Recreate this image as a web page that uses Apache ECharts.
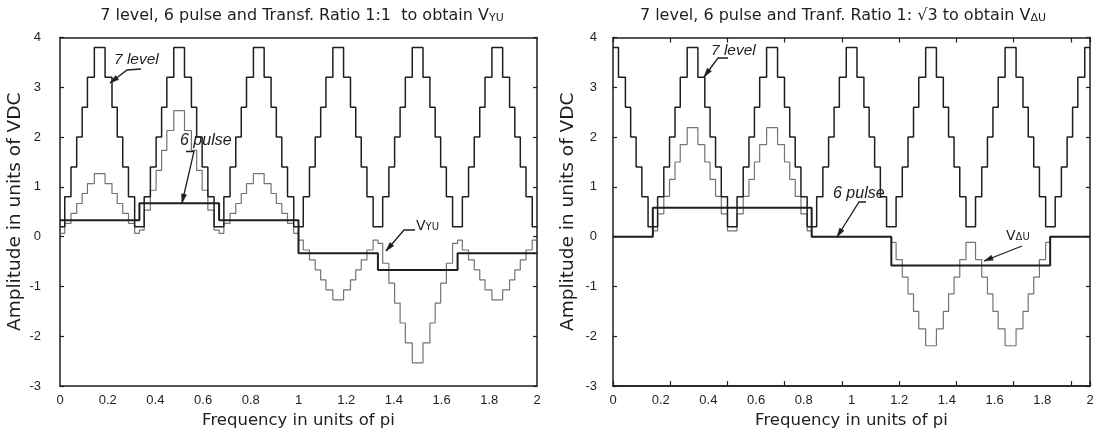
<!DOCTYPE html>
<html><head><meta charset="utf-8">
<script src="https://cdn.jsdelivr.net/npm/echarts@6/dist/echarts.min.js"></script>
<style>html,body{margin:0;padding:0;background:#fff}#c{width:1100px;height:434px}</style>
</head><body><div id="c"></div>
<script>
// ---------- DATA (units: x in pi, y in VDC) ----------
// Left chart: 7 level waveform (step transitions)
const leftSevenX = [0,0.020,0.046,0.070,0.093,0.115,0.144,0.189,0.218,0.240,0.263,0.287,0.313,
  0.353,0.379,0.403,0.426,0.448,0.477,0.522,0.551,0.573,0.596,0.620,0.646,
  0.687,0.713,0.737,0.760,0.782,0.811,0.856,0.885,0.907,0.930,0.954,0.980,
  1.020,1.046,1.070,1.093,1.115,1.144,1.189,1.218,1.240,1.263,1.287,1.313,
  1.353,1.379,1.403,1.426,1.448,1.477,1.522,1.551,1.573,1.596,1.620,1.646,
  1.687,1.713,1.737,1.760,1.782,1.811,1.856,1.885,1.907,1.930,1.954,1.980,2.0];
const leftSevenY = [0.2,0.8,1.4,2.0,2.6,3.2,3.8,3.2,2.6,2.0,1.4,0.8,0.2,
  0.8,1.4,2.0,2.6,3.2,3.8,3.2,2.6,2.0,1.4,0.8,0.2,
  0.8,1.4,2.0,2.6,3.2,3.8,3.2,2.6,2.0,1.4,0.8,0.2,
  0.8,1.4,2.0,2.6,3.2,3.8,3.2,2.6,2.0,1.4,0.8,0.2,
  0.8,1.4,2.0,2.6,3.2,3.8,3.2,2.6,2.0,1.4,0.8,0.2,
  0.8,1.4,2.0,2.6,3.2,3.8,3.2,2.6,2.0,1.4,0.8,0.2,0.2];
// Left chart: 6 pulse waveform
const leftSixX = [0,0.333,0.667,1.0,1.333,1.667,2.0];
const leftSixY = [0.33,0.67,0.33,-0.33,-0.67,-0.33,-0.33];
// Left chart: V_YU waveform
const leftVX = [0,0.020,0.046,0.070,0.093,0.115,0.144,0.189,0.218,0.240,0.263,0.287,0.313,
  0.333,0.353,0.379,0.403,0.426,0.448,0.477,0.522,0.551,0.573,0.596,0.620,0.646,
  0.667,0.687,0.713,0.737,0.760,0.782,0.811,0.856,0.885,0.907,0.930,0.954,0.980,
  1.0,1.020,1.046,1.070,1.093,1.115,1.144,1.189,1.218,1.240,1.263,1.287,1.313,
  1.333,1.353,1.379,1.403,1.426,1.448,1.477,1.522,1.551,1.573,1.596,1.620,1.646,
  1.667,1.687,1.713,1.737,1.760,1.782,1.811,1.856,1.885,1.907,1.930,1.954,1.980,2.0];
const leftVY = [0.067,0.267,0.467,0.667,0.867,1.067,1.267,1.067,0.867,0.667,0.467,0.267,0.067,
  0.133,0.533,0.933,1.333,1.733,2.133,2.533,2.133,1.733,1.333,0.933,0.533,0.133,
  0.067,0.267,0.467,0.667,0.867,1.067,1.267,1.067,0.867,0.667,0.467,0.267,0.067,
  -0.067,-0.267,-0.467,-0.667,-0.867,-1.067,-1.267,-1.067,-0.867,-0.667,-0.467,-0.267,-0.067,
  -0.133,-0.533,-0.933,-1.333,-1.733,-2.133,-2.533,-2.133,-1.733,-1.333,-0.933,-0.533,-0.133,
  -0.067,-0.267,-0.467,-0.667,-0.867,-1.067,-1.267,-1.067,-0.867,-0.667,-0.467,-0.267,-0.067,-0.067];

// Right chart: 7 level waveform
const rightSevenX = [0,0.023,0.052,0.074,0.097,0.121,0.147,0.187,0.213,0.237,0.260,0.282,0.311,
  0.356,0.385,0.407,0.430,0.454,0.480,0.520,0.546,0.570,0.593,0.615,0.644,
  0.690,0.719,0.741,0.764,0.788,0.814,0.854,0.880,0.904,0.927,0.949,0.978,
  1.023,1.052,1.074,1.097,1.121,1.147,1.187,1.213,1.237,1.260,1.282,1.311,
  1.356,1.385,1.407,1.430,1.454,1.480,1.520,1.546,1.570,1.593,1.615,1.644,
  1.690,1.719,1.741,1.764,1.788,1.814,1.854,1.880,1.904,1.927,1.949,1.978,2.0];
const rightSevenY = [3.8,3.2,2.6,2.0,1.4,0.8,0.2,0.8,1.4,2.0,2.6,3.2,3.8,
  3.2,2.6,2.0,1.4,0.8,0.2,0.8,1.4,2.0,2.6,3.2,3.8,
  3.2,2.6,2.0,1.4,0.8,0.2,0.8,1.4,2.0,2.6,3.2,3.8,
  3.2,2.6,2.0,1.4,0.8,0.2,0.8,1.4,2.0,2.6,3.2,3.8,
  3.2,2.6,2.0,1.4,0.8,0.2,0.8,1.4,2.0,2.6,3.2,3.8,
  3.2,2.6,2.0,1.4,0.8,0.2,0.8,1.4,2.0,2.6,3.2,3.8,3.8];
// Right chart: 6 pulse waveform
const rightSixX = [0,0.167,0.833,1.167,1.833,2.0];
const rightSixY = [0,0.58,0,-0.58,0,0];
// Right chart: V_ΔU waveform
const rightVX = [0,0.167,0.187,0.213,0.237,0.260,0.282,0.311,0.356,0.385,0.407,0.430,0.454,0.480,
  0.520,0.546,0.570,0.593,0.615,0.644,0.690,0.719,0.741,0.764,0.788,0.814,0.833,
  1.167,1.187,1.213,1.237,1.260,1.282,1.311,1.356,1.385,1.407,1.430,1.454,1.480,
  1.520,1.546,1.570,1.593,1.615,1.644,1.690,1.719,1.741,1.764,1.788,1.814,1.833,2.0];
const rightVY = [0,0.115,0.46,0.81,1.15,1.50,1.85,2.19,1.85,1.50,1.15,0.81,0.46,0.115,
  0.46,0.81,1.15,1.50,1.85,2.19,1.85,1.50,1.15,0.81,0.46,0.115,0,
  -0.115,-0.46,-0.81,-1.15,-1.50,-1.85,-2.19,-1.85,-1.50,-1.15,-0.81,-0.46,-0.115,
  -0.46,-0.81,-1.15,-1.50,-1.85,-2.19,-1.85,-1.50,-1.15,-0.81,-0.46,-0.115,0,0];

const xTickLabels = ['0','0.2','0.4','0.6','0.8','1','1.2','1.4','1.6','1.8','2'];
const yTickLabels = ['-3','-2','-1','0','1','2','3','4'];

// ---------- CHART ----------
const zip = (xs, ys) => xs.map((x, i) => [x, ys[i]]);
const FONT = 'DejaVu Sans, Liberation Sans, sans-serif';
const LFONT = 'Liberation Sans, DejaVu Sans, sans-serif';
const INK = '#1e1e1e';
const chart = echarts.init(document.getElementById('c'), null, {renderer: 'canvas'});

const grids = [
  {left: 60, top: 37.5, width: 477, height: 353.5},
  {left: 613, top: 37.5, width: 477, height: 353.5}
];
const axisLine = {show: true, onZero: false, lineStyle: {color: INK, width: 1.5}};
const xLabelFmt = v => { const i = Math.round(v / 0.2); return Math.abs(v - i * 0.2) < 1e-6 ? xTickLabels[i] : ''; };
const yLabelFmt = v => yTickLabels[Math.round(v) + 3];

function mainX(g) {
  return {gridIndex: g, type: 'value', min: 0, max: 2, interval: 0.2, position: 'bottom',
    axisLine, axisTick: {show: false}, splitLine: {show: false},
    axisLabel: {color: INK, fontFamily: LFONT, fontSize: 13, margin: 8, formatter: xLabelFmt},
    name: 'Frequency in units of pi', nameLocation: 'middle', nameGap: 23,
    nameTextStyle: {color: INK, fontFamily: FONT, fontSize: 16.5}};
}
function frameX(g, pos, ticks) {
  return {gridIndex: g, type: 'value', min: 0, max: 2, interval: 0.24, position: pos,
    axisLine, axisTick: {show: ticks, inside: true, length: 5, lineStyle: {color: INK, width: 1.2}},
    axisLabel: {show: false}, splitLine: {show: false}};
}
function mainY(g, margin) {
  return {gridIndex: g, type: 'value', min: -3, max: 4, interval: 1, position: 'left',
    axisLine, axisTick: {show: true, inside: true, length: 4, lineStyle: {color: INK, width: 1.2}},
    splitLine: {show: false},
    axisLabel: {color: INK, fontFamily: LFONT, fontSize: 13, margin: margin, formatter: yLabelFmt},
    name: 'Amplitude in units of VDC', nameLocation: 'middle', nameGap: 35,
    nameTextStyle: {color: INK, fontFamily: FONT, fontSize: 18.5}};
}
function frameY(g) {
  return {gridIndex: g, type: 'value', min: -3, max: 4, interval: 1, position: 'right',
    axisLine, axisTick: {show: true, inside: true, length: 4, lineStyle: {color: INK, width: 1.2}},
    axisLabel: {show: false}, splitLine: {show: false}};
}

function stepSeries(xi, yi, data, color, width, z) {
  return {type: 'line', xAxisIndex: xi, yAxisIndex: yi, data, step: 'end', showSymbol: false,
    symbol: 'none', lineStyle: {color, width}, z, silent: true};
}

function arrow(points) {
  const n = points.length;
  const [x1, y1] = points[n - 2], [x2, y2] = points[n - 1];
  const a = Math.atan2(y2 - y1, x2 - x1);
  const L = 9, W = 2.6;
  const bx = x2 - L * Math.cos(a), by = y2 - L * Math.sin(a);
  const px = -Math.sin(a) * W, py = Math.cos(a) * W;
  return [
    {type: 'polyline', shape: {points}, style: {stroke: INK, lineWidth: 1.3, fill: null}, z: 100},
    {type: 'polygon', shape: {points: [[x2, y2], [bx + px, by + py], [bx - px, by - py]]},
      style: {fill: INK, stroke: INK, lineWidth: 0.5}, z: 100}
  ];
}
function label(x, y, text, size) {
  return {type: 'text', x, y, z: 100,
    style: {text, fill: INK, font: 'italic ' + size + 'px ' + LFONT, textVerticalAlign: 'top'}};
}
const subRich = {
  v: {fontSize: 16, fontFamily: FONT, fill: INK, color: INK},
  s: {fontSize: 11, fontFamily: FONT, fill: INK, color: INK, padding: [4, 0, 0, 0]}
};
const subRichSmall = {
  v: {fontSize: 14, fontFamily: FONT, fill: INK, color: INK},
  s: {fontSize: 10, fontFamily: FONT, fill: INK, color: INK, padding: [3, 0, 0, 0]}
};

const graphics = [
  {type: 'text', x: 302, y: 8, z: 100, style: {text: '7 level, 6 pulse and Transf. Ratio 1:1  to obtain {v|V}{s|YU}',
    fill: INK, font: '16px ' + FONT, textAlign: 'center', rich: subRich}},
  {type: 'text', x: 843, y: 8, z: 100, style: {text: '7 level, 6 pulse and Tranf. Ratio 1: \u221A3 to obtain {v|V}{s|\u0394U}',
    fill: INK, font: '16px ' + FONT, textAlign: 'center', rich: subRich}},
  label(114, 52, '7 level', 15.5),
  ...arrow([[141, 69], [127, 70], [110, 83]]),
  label(180, 133, '6 pulse', 16),
  ...arrow([[186, 151.5], [194, 151.5], [182, 203]]),
  {type: 'text', x: 416, y: 219, z: 100, style: {text: '{v|V}{s|YU}', fill: INK, font: '14px ' + FONT, rich: subRichSmall}},
  ...arrow([[415, 230], [404, 230], [386, 251]]),
  label(711, 43, '7 level', 15.5),
  ...arrow([[728, 58], [718, 58], [704, 77]]),
  label(833, 186, '6 pulse', 16),
  ...arrow([[866, 202], [859, 202], [837, 237]]),
  {type: 'text', x: 1006, y: 229, z: 100, style: {text: '{v|V}{s|\u0394U}', fill: INK, font: '14px ' + FONT, rich: subRichSmall}},
  ...arrow([[1022, 246], [984, 261]])
];

chart.setOption({
  animation: false,
  backgroundColor: '#ffffff',
  grid: grids,
  xAxis: [mainX(0), frameX(0, 'top', false), mainX(1), frameX(1, 'top', true), frameX(1, 'bottom', true)],
  yAxis: [mainY(0, 19), frameY(0), mainY(1, 16), frameY(1)],
  series: [
    stepSeries(0, 0, zip(leftVX, leftVY), '#747474', 1.2, 2),
    stepSeries(0, 0, zip(leftSevenX, leftSevenY), INK, 1.5, 3),
    stepSeries(0, 0, zip(leftSixX, leftSixY), INK, 2, 4),
    stepSeries(2, 2, zip(rightVX, rightVY), '#747474', 1.2, 2),
    stepSeries(2, 2, zip(rightSevenX, rightSevenY), INK, 1.5, 3),
    stepSeries(2, 2, zip(rightSixX, rightSixY), INK, 2, 4)
  ],
  graphic: graphics
});
</script></body></html>
